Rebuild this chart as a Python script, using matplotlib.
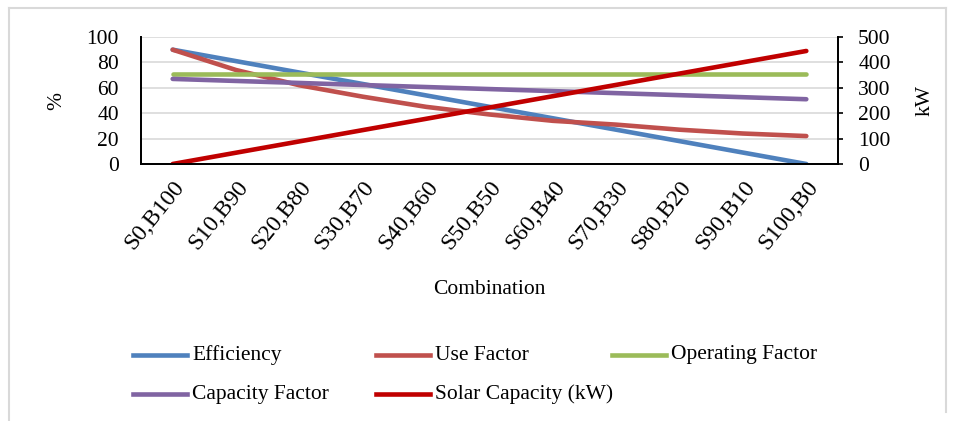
import matplotlib
matplotlib.use("Agg")
import matplotlib.pyplot as plt
from matplotlib.lines import Line2D

categories = ["S0,B100", "S10,B90", "S20,B80", "S30,B70", "S40,B60", "S50,B50",
              "S60,B40", "S70,B30", "S80,B20", "S90,B10", "S100,B0"]
efficiency = [90, 81, 72, 63, 54, 45, 36, 27, 18, 9, 0]
use_factor = [90, 74, 62, 53, 45, 39, 34, 31, 27, 24, 22]
operating_factor = [71, 71, 71, 71, 71, 71, 71, 71, 71, 71, 71]
capacity_factor = [67, 65.4, 63.8, 62.2, 60.6, 59, 57.4, 55.8, 54.2, 52.6, 51]
solar_capacity = [0, 44.5, 89, 133.5, 178, 222.5, 267, 311.5, 356, 400.5, 445]
left_ticks = [0, 20, 40, 60, 80, 100]
right_ticks = [0, 100, 200, 300, 400, 500]

plt.rcParams['font.family'] = ['Liberation Serif', 'DejaVu Serif']

W, H = 957, 421
fig = plt.figure(figsize=(W / 100, H / 100), dpi=100)
ax = fig.add_axes([141 / W, 1 - 164 / H, (838 - 141) / W, (164 - 37) / H])
ax2 = ax.twinx()

lw = 3.3
x = list(range(len(categories)))
colors = {
    "Efficiency": "#4F81BD",
    "Use Factor": "#C0504D",
    "Operating Factor": "#9BBB59",
    "Capacity Factor": "#8064A2",
    "Solar Capacity (kW)": "#C00000",
}
ax.plot(x, efficiency, color=colors["Efficiency"], lw=lw, solid_capstyle='round')
ax.plot(x, use_factor, color=colors["Use Factor"], lw=lw, solid_capstyle='round')
ax.plot(x, operating_factor, color=colors["Operating Factor"], lw=lw, solid_capstyle='round')
ax.plot(x, capacity_factor, color=colors["Capacity Factor"], lw=lw, solid_capstyle='round')
ax2.plot(x, solar_capacity, color=colors["Solar Capacity (kW)"], lw=lw, solid_capstyle='round')

ax.set_xlim(-0.5, len(categories) - 0.5)
ax.set_ylim(0, 100)
ax2.set_ylim(0, 500)
ax.set_yticks(left_ticks)
ax2.set_yticks(right_ticks)
ax.grid(axis='y', color='#D9D9D9', lw=1.2)
ax.set_axisbelow(True)

fs = 15.5
ax.tick_params(axis='y', length=0, pad=16, labelsize=fs)
ax2.tick_params(axis='y', length=3.5, width=1.2, pad=11, labelsize=fs, direction='out')
ax.set_xticks(x)
ax.set_xticklabels(categories, rotation=51, ha='right', va='top', rotation_mode='anchor', fontsize=17)
ax.tick_params(axis='x', length=0, pad=9)

for a in (ax, ax2):
    a.spines['top'].set_visible(False)
    for s in ('left', 'right', 'bottom'):
        a.spines[s].set_linewidth(1.3)
        a.spines[s].set_color('black')

fig.text(57 / W, 1 - 101 / H, "%", rotation=90, ha='center', va='center', fontsize=fs)
fig.text(925 / W, 1 - 101 / H, "kW", rotation=90, ha='center', va='center', fontsize=fs)
fig.text(489 / W, 1 - 289 / H, "Combination", ha='center', va='center', fontsize=fs)

# legend
legend_items = [
    ("Efficiency", 133, 355), ("Use Factor", 376, 355), ("Operating Factor", 612, 355),
    ("Capacity Factor", 133, 394), ("Solar Capacity (kW)", 376, 394),
]
for label, x0, y0 in legend_items:
    fig.add_artist(Line2D([x0 / W, (x0 + 54) / W], [1 - y0 / H, 1 - y0 / H],
                          color=colors[label], lw=lw, transform=fig.transFigure))
    fig.text((x0 + 59) / W, 1 - y0 / H, label, ha='left', va='center', fontsize=fs)

# outer frame
frame_c = '#D9D9D9'
fig.add_artist(Line2D([9 / W, 9 / W], [0, 1 - 8 / H], color=frame_c, lw=1.5, transform=fig.transFigure))
fig.add_artist(Line2D([9 / W, 946 / W], [1 - 8 / H, 1 - 8 / H], color=frame_c, lw=1.5, transform=fig.transFigure))
fig.add_artist(Line2D([946 / W, 946 / W], [1 - 412 / H, 1 - 8 / H], color=frame_c, lw=1.5, transform=fig.transFigure))

fig.savefig("out.png", dpi=100)
